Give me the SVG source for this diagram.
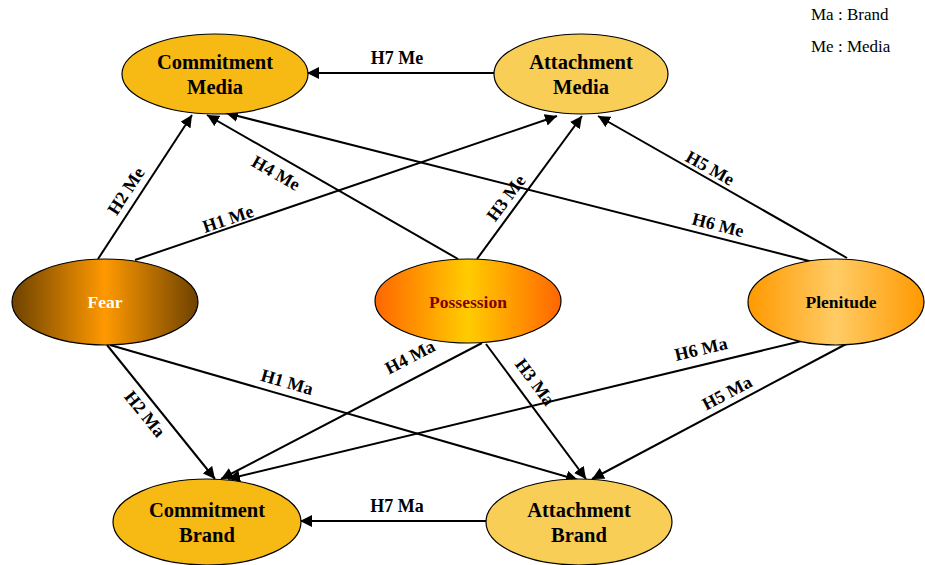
<svg xmlns="http://www.w3.org/2000/svg" width="925" height="565" viewBox="0 0 925 565">
  <defs>
    <linearGradient id="gFear" x1="0" y1="0" x2="1" y2="0">
      <stop offset="0" stop-color="#6E4200"/>
      <stop offset="0.5" stop-color="#FF9900"/>
      <stop offset="1" stop-color="#6E4200"/>
    </linearGradient>
    <linearGradient id="gPoss" x1="0" y1="0" x2="1" y2="0">
      <stop offset="0" stop-color="#FF6600"/>
      <stop offset="0.5" stop-color="#FFCC00"/>
      <stop offset="1" stop-color="#FF6600"/>
    </linearGradient>
    <linearGradient id="gPlen" x1="0" y1="0" x2="1" y2="0">
      <stop offset="0" stop-color="#FF9900"/>
      <stop offset="0.5" stop-color="#FFCC66"/>
      <stop offset="1" stop-color="#FF9900"/>
    </linearGradient>
    <marker id="arr" viewBox="0 0 10 10" refX="10" refY="5" markerWidth="6" markerHeight="6" orient="auto" markerUnits="strokeWidth">
      <path d="M0,0 L10,5 L0,10 z" fill="#000"/>
    </marker>
  </defs>
  <style>
    .node ellipse { stroke: #000; stroke-width: 1.2; }
    .commit { fill: #F7B913; }
    .attach { fill: #F9CE57; }
    .nt { font-family: "Liberation Serif", "Times New Roman", serif; font-weight: bold; font-size: 20.5px; text-anchor: middle; fill: #000; }
    .st { font-family: "Liberation Serif", "Times New Roman", serif; font-weight: bold; font-size: 17.5px; text-anchor: middle; }
    .edges line { stroke: #000; stroke-width: 2; marker-end: url(#arr); }
    .lbl { font-family: "Liberation Serif", "Times New Roman", serif; font-weight: bold; font-size: 18px; text-anchor: middle; fill: #000; }
    .legend { font-family: "Liberation Serif", "Times New Roman", serif; font-size: 17px; fill: #000; }
  </style>

  <rect width="925" height="565" fill="#fff"/>

  <!-- connectors -->
  <g id="edges" class="edges">
    <line x1="494" y1="73" x2="307" y2="73"/>
    <line x1="486" y1="521" x2="300" y2="521"/>
    <line x1="98" y1="259" x2="192" y2="115"/>
    <line x1="135" y1="260" x2="557" y2="116"/>
    <line x1="458" y1="259" x2="207" y2="115"/>
    <line x1="477" y1="259" x2="582" y2="116"/>
    <line x1="813" y1="262" x2="226" y2="113"/>
    <line x1="847" y1="258" x2="598" y2="116"/>
    <line x1="107" y1="345" x2="215" y2="479"/>
    <line x1="110" y1="345" x2="578" y2="480"/>
    <line x1="482" y1="343" x2="221" y2="479"/>
    <line x1="486" y1="344" x2="586" y2="479"/>
    <line x1="806" y1="340" x2="228" y2="479"/>
    <line x1="848" y1="343" x2="592" y2="479"/>
  </g>

  <!-- connector labels -->
  <g id="labels">
    <text class="lbl" x="397" y="64">H7 Me</text>
    <text class="lbl" x="397" y="512">H7 Ma</text>
    <text class="lbl" transform="translate(126,191) rotate(-57)" y="6">H2 Me</text>
    <text class="lbl" transform="translate(228,219) rotate(-18.7)" y="6">H1 Me</text>
    <text class="lbl" transform="translate(276,173) rotate(29.8)" y="6">H4 Me</text>
    <text class="lbl" transform="translate(506,198) rotate(-53.3)" y="6">H3 Me</text>
    <text class="lbl" transform="translate(710,168) rotate(29.3)" y="6">H5 Me</text>
    <text class="lbl" transform="translate(718,225) rotate(14.3)" y="6">H6 Me</text>
    <text class="lbl" transform="translate(145,414) rotate(51)" y="6">H2 Ma</text>
    <text class="lbl" transform="translate(287,382) rotate(16)" y="6">H1 Ma</text>
    <text class="lbl" transform="translate(410,357) rotate(-27.5)" y="6">H4 Ma</text>
    <text class="lbl" transform="translate(535,382) rotate(53.3)" y="6">H3 Ma</text>
    <text class="lbl" transform="translate(701,349) rotate(-13.4)" y="6">H6 Ma</text>
    <text class="lbl" transform="translate(727,393) rotate(-27.8)" y="6">H5 Ma</text>
  </g>

  <!-- nodes -->
  <g id="commitment-media" class="node">
    <ellipse class="commit" cx="215" cy="74" rx="93" ry="40"/>
    <text class="nt" x="215" y="69">Commitment</text>
    <text class="nt" x="215" y="94">Media</text>
  </g>
  <g id="attachment-media" class="node">
    <ellipse class="attach" cx="581" cy="74" rx="87" ry="40"/>
    <text class="nt" x="581" y="69">Attachment</text>
    <text class="nt" x="581" y="94">Media</text>
  </g>
  <g id="fear" class="node">
    <ellipse cx="105" cy="302" rx="93" ry="43" fill="url(#gFear)"/>
    <text class="st" x="105" y="308" fill="#fff">Fear</text>
  </g>
  <g id="possession" class="node">
    <ellipse cx="468" cy="301" rx="93" ry="42" fill="url(#gPoss)"/>
    <text class="st" x="468" y="308" fill="#800000">Possession</text>
  </g>
  <g id="plenitude" class="node">
    <ellipse cx="836" cy="302" rx="88" ry="43" fill="url(#gPlen)"/>
    <text class="st" x="841" y="308" fill="#000">Plenitude</text>
  </g>
  <g id="commitment-brand" class="node">
    <ellipse class="commit" cx="207" cy="522" rx="94" ry="43"/>
    <text class="nt" x="207" y="517">Commitment</text>
    <text class="nt" x="207" y="542">Brand</text>
  </g>
  <g id="attachment-brand" class="node">
    <ellipse class="attach" cx="579" cy="522" rx="93" ry="43"/>
    <text class="nt" x="579" y="517">Attachment</text>
    <text class="nt" x="579" y="542">Brand</text>
  </g>

  <!-- legend -->
  <g id="legend">
    <text class="legend" x="811" y="20">Ma : Brand</text>
    <text class="legend" x="811" y="52">Me : Media</text>
  </g>
</svg>
